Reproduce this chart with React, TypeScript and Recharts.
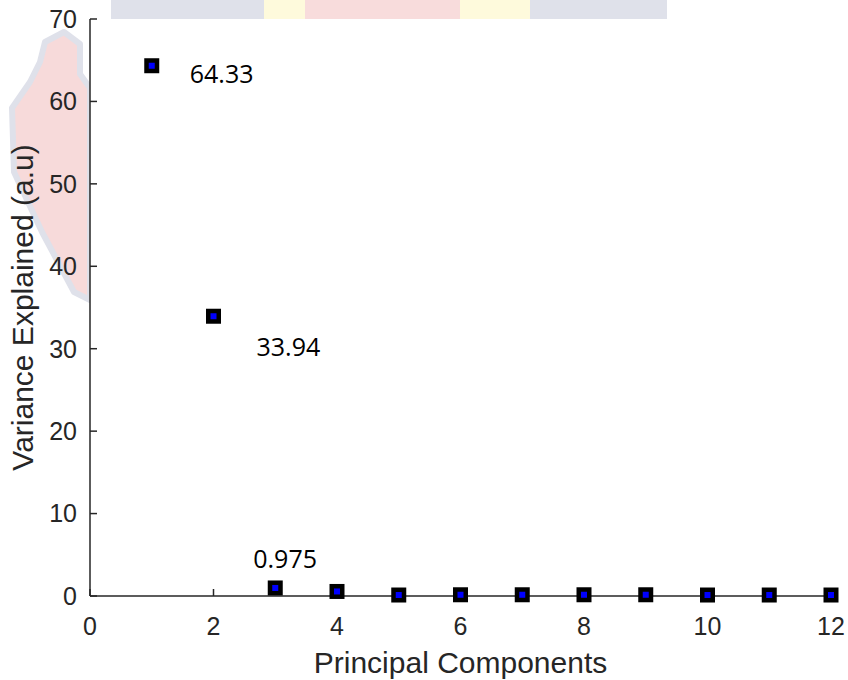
import React from 'react';
import { ScatterChart, Scatter, XAxis, YAxis } from 'recharts';

const components = [1, 2, 3, 4, 5, 6, 7, 8, 9, 10, 11, 12];
const variance = [64.33, 33.94, 0.975, 0.55, 0.12, 0.15, 0.15, 0.15, 0.15, 0.12, 0.12, 0.12];
const annotations = ['64.33', '33.94', '0.975', '', '', '', '', '', '', '', '', ''];
const xTicks = [0, 2, 4, 6, 8, 10, 12];
const yTicks = [0, 10, 20, 30, 40, 50, 60, 70];

const data = components.map((c, i) => ({ pc: c, v: variance[i], label: annotations[i] }));

const LABEL_OFFSETS: Record<number, [number, number]> = {
  0: [38, 17],
  1: [43, 40],
  2: [-22, -20],
};

const AXIS_COLOR = '#262626';
const AXIS_FONT = '"Liberation Sans", Arial, Helvetica, sans-serif';

const Marker = (props: any) => {
  const { cx, cy, payload, index } = props;
  if (cx == null || cy == null) return null;
  const off = LABEL_OFFSETS[index];
  return (
    <g>
      <rect x={cx - 7.5} y={cy - 7.5} width={15} height={15} fill="#000000" />
      <rect x={cx - 3} y={cy - 3} width={6} height={6} fill="#0000ff" />
      {payload && payload.label && off ? (
        <text
          x={cx + off[0]}
          y={cy + off[1]}
          fontFamily='"Open Sans", sans-serif'
          fontSize={25}
          fill="#000000"
        >
          {payload.label}
        </text>
      ) : null}
    </g>
  );
};

const YTitle = (props: any) => {
  const vb = props.viewBox || { x: 0, y: 0, width: 90, height: 577 };
  const x = vb.x + 33;
  const y = vb.y + vb.height / 2;
  return (
    <text
      x={x}
      y={y}
      transform={`rotate(-90, ${x}, ${y})`}
      textAnchor="middle"
      fontFamily={AXIS_FONT}
      fontSize={30}
      fill={AXIS_COLOR}
    >
      Variance Explained (a.u)
    </text>
  );
};

const Watermark = () => (
  <svg width={848} height={680} style={{ position: 'absolute', left: 0, top: 0 }}>
    <rect x={111} y={0} width={153} height={19} fill="#dfe1ea" />
    <rect x={264} y={0} width={41} height={19} fill="#fefadc" />
    <rect x={305} y={0} width={155} height={19} fill="#f8dcdc" />
    <rect x={460} y={0} width={70} height={19} fill="#fefadc" />
    <rect x={530} y={0} width={137} height={19} fill="#dfe1ea" />
    <polygon
      points="45,42 64,32 80,44 80,74 90,88 90,300 74,292 42,232 14,172 12,108 30,82 40,62"
      fill="#f7dada"
      stroke="#dfe1ea"
      strokeWidth={6}
      strokeLinejoin="round"
    />
    <rect x={90} y={19} width={741} height={577} fill="#ffffff" />
  </svg>
);

export default function App() {
  return (
    <div style={{ position: 'absolute', left: 0, top: 0, width: 848, height: 680, background: '#ffffff' }}>
      <Watermark />
      <div style={{ position: 'absolute', left: 0, top: 0 }}>
        <ScatterChart width={848} height={680} margin={{ top: 19, right: 17, left: 0, bottom: 0 }}>
          <XAxis
            type="number"
            dataKey="pc"
            domain={[0, 12]}
            ticks={xTicks}
            interval={0}
            height={84}
            axisLine={{ stroke: AXIS_COLOR, strokeWidth: 1.5 }}
            tickLine={{ stroke: AXIS_COLOR, strokeWidth: 1.5 }}
            tickSize={-7}
            tickMargin={28}
            tick={{ fill: AXIS_COLOR, fontSize: 25, fontFamily: AXIS_FONT }}
            label={{
              value: 'Principal Components',
              position: 'insideBottom',
              offset: 7,
              fill: AXIS_COLOR,
              fontSize: 30,
              fontFamily: AXIS_FONT,
            }}
          />
          <YAxis
            type="number"
            dataKey="v"
            domain={[0, 70]}
            ticks={yTicks}
            interval={0}
            width={90}
            axisLine={{ stroke: AXIS_COLOR, strokeWidth: 1.5 }}
            tickLine={{ stroke: AXIS_COLOR, strokeWidth: 1.5 }}
            tickSize={-7}
            tickMargin={20}
            tick={{ fill: AXIS_COLOR, fontSize: 25, fontFamily: AXIS_FONT }}
            label={{ content: (p: any) => <YTitle {...p} /> }}
          />
          <Scatter data={data} shape={<Marker />} isAnimationActive={false} />
        </ScatterChart>
      </div>
    </div>
  );
}
